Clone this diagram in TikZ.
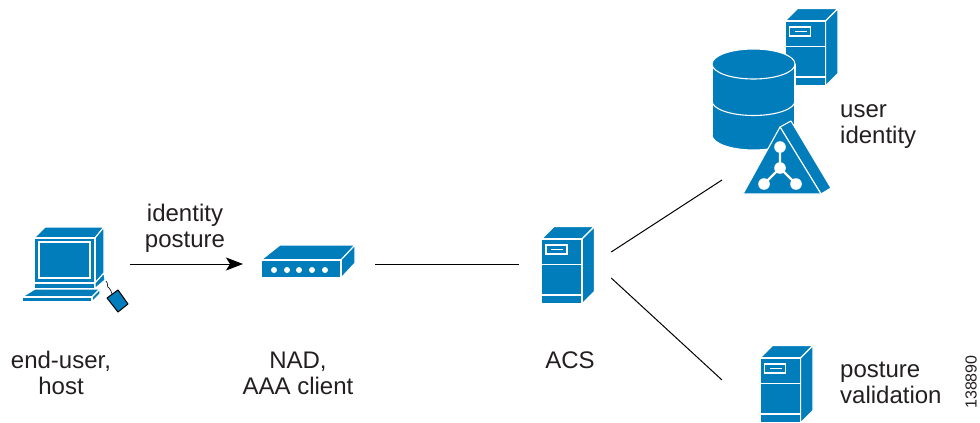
\documentclass[tikz,border=0pt]{standalone}
\usepackage{fontspec}
\usetikzlibrary{arrows.meta}
\setmainfont{Liberation Sans}
\definecolor{ciscoblue}{HTML}{007DBA}
\definecolor{inktext}{HTML}{231F20}
\tikzset{
  solidblue/.style={fill=ciscoblue,draw=white,line width=1.1pt,line join=round},
  whiteline/.style={draw=white,line width=1.1pt},
  link/.style={draw=black,line width=1pt},
  lbl/.style={font=\fontsize{24}{26}\selectfont,text=inktext,align=center,inner sep=0pt},
  lblleft/.style={lbl,align=left,anchor=west},
  iconbox/.style={inner sep=0pt,minimum width=#1,minimum height=20pt},
}
\newcommand{\serverat}[2]{%
  \begin{scope}[shift={(#1,#2)}]
    \path[solidblue] (0,0) -- (12.5,-12.5) -- (53,-12.5) -- (40.5,0) -- cycle;
    \path[solidblue] (40.5,0) -- (53,-12.5) -- (53,52.5) -- (40.5,65) -- cycle;
    \path[solidblue] (0,0) rectangle (40.5,65);
    \draw[whiteline] (0,25.5) -- (40.5,25.5);
    \draw[whiteline] (0,56) -- (40.5,56);
    \draw[whiteline] (4.5,6) rectangle (25.5,15);
    \draw[whiteline] (9.5,10.5) -- (21.5,10.5);
  \end{scope}}
\begin{document}
\begin{tikzpicture}[x=1pt,y=-1pt]
\useasboundingbox (0,0) rectangle (980,423);
% host
\path[solidblue] (34,238) -- (45,227) -- (104,227) -- (95,238) -- cycle;
\path[solidblue] (95,238) -- (104,227) -- (104,273) -- (95,283) -- cycle;
\path[solidblue] (34,238) rectangle (95,283);
\draw[whiteline] (39,242) rectangle (90,278);
\path[solidblue] (34,283) rectangle (95,288.5);
\path[solidblue] (95,283) -- (104,273) -- (105,280) -- (95,288.5) -- cycle;
\path[solidblue] (22,297) -- (35,289) -- (100,289) -- (92,297) -- cycle;
\path[solidblue] (92,297) -- (100,289) -- (100,294) -- (92,302) -- cycle;
\path[solidblue] (22,297) rectangle (92,302);
\draw[black,line width=0.6pt] (106,281) .. controls (109,284) and (106,287) .. (109,288) .. controls (112,289) and (110,292) .. (112,294);
\path[fill=ciscoblue,draw=black,line width=1pt,line join=round] (107,298) -- (118,290) -- (128,304) -- (118,312) -- cycle;
% NAD
\path[solidblue] (261,260) -- (280,245) -- (355,245) -- (341,260) -- cycle;
\path[solidblue] (341,260) -- (355,245) -- (355,263) -- (341,278) -- cycle;
\path[solidblue] (261,260) rectangle (341,278);
\foreach \dx in {274,287,299,312,325} \fill[white] (\dx,270) circle (3);
% servers
\serverat{541.5}{239}
\serverat{785}{21}
\serverat{760}{358}
% database
\fill[ciscoblue] (712,64) rectangle (795,135);
\path[solidblue] (753.5,135) ellipse [x radius=41.5,y radius=15];
\fill[ciscoblue] (712.5,64) rectangle (794.5,135);
\draw[whiteline] (712,64) -- (712,135);
\draw[whiteline] (795,64) -- (795,135);
\path[solidblue] (753.5,64) ellipse [x radius=41.5,y radius=15];
\draw[whiteline] (712,101) arc [start angle=180,end angle=0,x radius=41.5,y radius=14.5];
% triangle
\path[solidblue] (780,127) -- (791,121) -- (831,188) -- (821,194) -- cycle;
\path[solidblue] (780,127) -- (743,194) -- (821,194) -- cycle;
\draw[white,line width=2.2pt] (780,147) -- (780,168) (764,184) -- (780,168) -- (796,184);
\foreach \p in {(780,147),(780,168),(764,184),(796,184)} \fill[white] \p circle (5.8);
% invisible anchors for connectors
\node[iconbox=0pt] (hostlink) at (130,264) {};
\node[iconbox=0pt] (nadw) at (243,264) {};
\node[iconbox=0pt] (nade) at (375,264) {};
\node[iconbox=92pt] (acs) at (565,264) {};
\node[iconbox=0pt] (idlink) at (722,180) {};
\node[iconbox=0pt] (postlink) at (722,380) {};
% connectors
\draw[link,-{Stealth[length=17pt,width=13pt,inset=4pt]}] (hostlink.center) -- (nadw.center);
\draw[link] (nade.center) -- (acs.west);
\draw[link] ([yshift=12pt]acs.east) -- (idlink.center);
\draw[link] ([yshift=-14pt]acs.east) -- (postlink.center);
% labels
\node[lbl] (t1) at (185,228) {identity\\posture};
\node[lbl] (t2) at (61,373) {end-user,\\host};
\node[lbl] (t3) at (298,373) {NAD,\\AAA client};
\node[lbl] (t4) at (570,360) {ACS};
\node[lblleft] (t5) at (840,127) {user\\identity};
\node[lblleft] (t6) at (840,383) {posture\\validation};
\node[inner sep=0pt,text=inktext,font=\fontsize{16}{16}\selectfont,rotate=90] (t7) at (971,382) {138890};
\end{tikzpicture}
\end{document}
